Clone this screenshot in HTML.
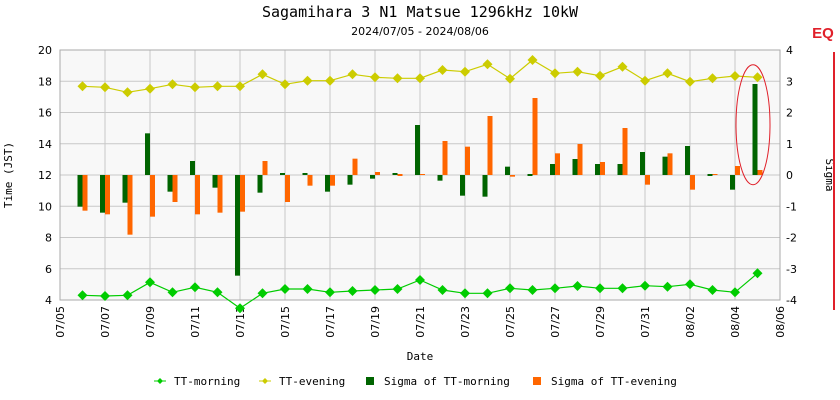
<!DOCTYPE html><html><head><style>body{margin:0;background:#fff}svg{display:block}</style></head><body>
<svg id="s" width="840" height="400" xmlns="http://www.w3.org/2000/svg" font-family="Liberation Sans, DejaVu Sans, sans-serif"></svg>
<script>
const s=document.getElementById('s');let h='';
h+='<text x="420" y="17" font-family="DejaVu Sans Mono, Liberation Mono, monospace" font-size="15" text-anchor="middle">Sagamihara 3 N1 Matsue 1296kHz 10kW</text>';
h+='<text x="420" y="35" font-family="DejaVu Sans, sans-serif" font-size="11" text-anchor="middle">2024/07/05 - 2024/08/06</text>';
h+='<rect x="60" y="50" width="720" height="250" fill="#f8f8f8"/>';
for(let i=1;i<16;i++){let x=60+45*i;h+=`<line x1="${x}" y1="50" x2="${x}" y2="300" stroke="#c8c8c8"/>`;}
for(let i=1;i<8;i++){let y=50+31.25*i;h+=`<line x1="60" y1="${y}" x2="780" y2="${y}" stroke="#c8c8c8"/>`;}
h+='<rect x="60" y="50" width="720" height="250" fill="none" stroke="#aaa"/>';
for(let i=0;i<=8;i++){let y=300-31.25*i;h+=`<text x="52" y="${y+4}" font-size="11" text-anchor="end" font-family="DejaVu Sans">${4+2*i}</text><text x="786" y="${y+4}" font-size="11" font-family="DejaVu Sans">${i-4}</text>`;}
const dl=['07/05','07/07','07/09','07/11','07/13','07/15','07/17','07/19','07/21','07/23','07/25','07/27','07/29','07/31','08/02','08/04','08/06'];
dl.forEach((d,i)=>{let x=60+45*i;h+=`<text transform="translate(${x+4},306) rotate(-90)" font-size="11" text-anchor="end" font-family="DejaVu Sans">${d}</text>`;});
h+='<text x="420" y="360" font-size="11" text-anchor="middle" font-family="DejaVu Sans Mono, monospace">Date</text>';
h+='<text transform="translate(12,175) rotate(-90)" font-size="11" text-anchor="middle" font-family="DejaVu Sans Mono, monospace">Time (JST)</text>';
h+='<text transform="translate(826,175) rotate(90)" font-size="11" text-anchor="middle" font-family="DejaVu Sans Mono, monospace">Sigma</text>';
h+='<line x1="834" y1="52" x2="834" y2="310" stroke="#e0202a" stroke-width="2"/>';
h+='<text x="823" y="38" font-size="15" font-weight="bold" fill="#e0202a" text-anchor="middle">EQ</text>';
const g=[500,518,488,280,455,363,443,707,458,399,399,455,434,416,399,255,422,467,470,380,403,372,357,372,372,336,350,318,403,449,132];
const o=[512,523,584,530,486,523,518,515,363,486,437,437,356,396,403,402,303,320,228,410,174,340,312,366,264,434,340,449,402,378,390];
const ev=[86.3,87.3,92.3,88.7,84.3,87.3,86.3,86.3,74.3,84.3,80.7,80.7,74.3,77.3,78.3,78.3,70,71.7,64.3,78.7,60,73.3,71.7,75.7,66.7,80.7,73.3,81.7,78.3,76,77.3];
const mo=[295.3,296,295.3,282.3,292.3,287.3,292.3,308.3,293.3,289,289,292.3,291,290,289,280,290,293.3,293.3,288.3,290,288.3,286,288.3,288.3,285.7,286.7,284.3,290,292.3,273.3];
function bar(xa,z,c){let y=z/3+40;let t=Math.min(y,175),b=Math.max(y,175);if(b-t<1){t=174;b=176}h+=`<rect x="${xa}" y="${t}" width="5" height="${b-t}" fill="${c}"/>`;}
for(let i=0;i<31;i++){let x=82.5+22.5*i;bar(x-5,g[i],'#006400');bar(x,o[i],'#ff6600');}
function line(a,c){h+=`<polyline points="${a.map((y,i)=>(82.5+22.5*i)+','+y).join(' ')}" fill="none" stroke="${c}" stroke-width="1.2"/>`;a.forEach((y,i)=>{let x=82.5+22.5*i;h+=`<polygon points="${x},${y-5} ${x+5},${y} ${x},${y+5} ${x-5},${y}" fill="${c}"/>`;});}
line(ev,'#cccc00');line(mo,'#00cc00');
h+='<ellipse cx="753" cy="124.7" rx="17" ry="60" fill="none" stroke="#e0202a"/>';
const L=[[160,'TT-morning','#00cc00',0],[265,'TT-evening','#cccc00',0],[370,'Sigma of TT-morning','#006400',1],[537,'Sigma of TT-evening','#ff6600',1]];
L.forEach(([x,t,c,b])=>{if(b)h+=`<rect x="${x-4}" y="377" width="8" height="8" fill="${c}"/>`;else h+=`<line x1="${x-6}" y1="381" x2="${x+6}" y2="381" stroke="${c}"/><polygon points="${x},378 ${x+3},381 ${x},384 ${x-3},381" fill="${c}"/>`;h+=`<text x="${x+14}" y="385" font-size="11" font-family="DejaVu Sans Mono, monospace">${t}</text>`;});
s.innerHTML=h;
</script></body></html>
